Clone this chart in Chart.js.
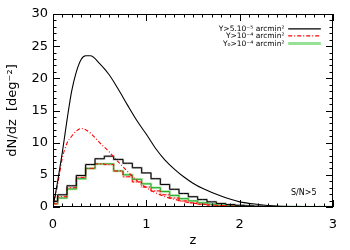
<!DOCTYPE html>
<html>
<head>
<meta charset="utf-8">
<script src="https://cdn.jsdelivr.net/npm/chart.js@4"></script>
<style>html,body{margin:0;padding:0;background:#fff;}canvas{display:block;}</style>
</head>
<body>
<canvas id="c" width="350" height="250"></canvas>
<script>
// ---- data ----
const zCurve = [0,0.05,0.1,0.15,0.2,0.25,0.3,0.35,0.4,0.5,0.6,0.7,0.8,0.9,1.0,1.1,1.2,1.3,1.4,1.5,1.6,1.8,2.0,2.2,2.4,2.6,2.8,3.0];
const blackCurve = [0,4,8.5,13.5,18,21,22.9,23.5,23.5,22.3,20.6,18.3,15.8,13.4,11.3,9.1,7.3,5.9,4.7,3.7,2.9,1.7,0.8,0.4,0.15,0.06,0.02,0.01];
const redCurve   = [0,3.5,7.6,9.9,11.0,11.8,12.2,12.0,11.5,10.0,8.6,7.0,5.5,4.1,3.0,2.2,1.6,1.2,0.85,0.6,0.45,0.22,0.1,0.05,0.03,0.02,0.01,0];

const zHist = [0,0.1,0.2,0.3,0.4,0.5,0.6,0.7,0.8,0.9,1.0,1.1,1.2,1.3,1.4,1.5,1.6,1.7,1.8,1.9,2.0,2.1,2.2,2.3,2.4,2.5,2.6,2.7,2.8,2.9,3.0];
const blackHist = [0.9,1.9,3.3,4.9,6.6,7.5,7.9,7.4,6.8,6.1,5.3,4.4,3.5,2.75,2.1,1.6,1.15,0.8,0.55,0.38,0.26,0.18,0.12,0.08,0.05,0.03,0.02,0.01,0.01,0,0];
const redHist   = [0.5,1.6,3.0,4.6,6.0,6.7,6.6,5.6,4.7,3.9,3.1,2.5,1.9,1.4,0.95,0.65,0.42,0.28,0.18,0.12,0.08,0.05,0.03,0.02,0.01,0.01,0,0,0,0,0];
const greenHist = [0.5,1.4,2.8,4.4,6.0,6.7,6.7,5.6,5.0,4.3,3.6,3.0,2.4,1.8,1.3,0.95,0.65,0.45,0.3,0.2,0.14,0.1,0.07,0.05,0.03,0.02,0.01,0.01,0,0,0];

const xTickLabels = [0,1,2,3];
const yTickLabels = [0,5,10,15,20,25,30];
const legendLabels = ["Y>5.10\u207B\u2075 arcmin\u00B2","Y>10\u207B\u2074 arcmin\u00B2","Y\u2080>10\u207B\u2074 arcmin\u00B2"];
const noteText = "S/N>5";

// ---- build ----
const pts = (xs, ys) => xs.map((x,i)=>({x, y: ys[i]}));
const histDs = (vals, color, width, dash) => ({
  data: pts(zHist, vals), borderColor: color, borderWidth: width, borderDash: dash||[],
  stepped: 'middle', pointRadius: 0, fill: false
});
const curveDs = (vals, color, width, dash) => ({
  data: pts(zCurve, vals), borderColor: color, borderWidth: width, borderDash: dash||[],
  cubicInterpolationMode: 'monotone', pointRadius: 0, fill: false
});

const datasets = [
  curveDs(blackCurve, '#000000', 1.1),
  curveDs(redCurve, '#ff0000', 1.1, [4,2,1,2]),
  histDs(blackHist, '#000000', 1),
  histDs(redHist, '#ff0000', 1, [4,2,1,2]),
  histDs(greenHist, '#22aa22', 1),
  histDs(blackHist, 'rgba(150,150,150,0.7)', 2),
  histDs(redHist, 'rgba(255,170,170,0.6)', 2),
  histDs(greenHist, 'rgba(150,225,150,0.8)', 2.5)
];

const frame = {
  id: 'frame',
  beforeDraw(chart){ const c=chart.ctx; c.save(); c.fillStyle='#fff'; c.fillRect(0,0,chart.width,chart.height); c.restore(); },
  afterDraw(chart){
    const {ctx, chartArea:{left,right,top,bottom}, scales:{x,y}} = chart;
    ctx.save();
    ctx.strokeStyle='#000'; ctx.lineWidth=1;
    ctx.strokeRect(Math.round(left)+0.5, Math.round(top)+0.5, Math.round(right-left)-1, Math.round(bottom-top)-1);
    ctx.beginPath();
    for(let v=0; v<=30; v++){
      const py = Math.round(y.getPixelForValue(v))+0.5; const len = v%5===0?7:3.5;
      ctx.moveTo(left,py); ctx.lineTo(left+len,py);
      ctx.moveTo(right,py); ctx.lineTo(right-len,py);
    }
    for(let k=0; k<=30; k++){
      const px = Math.round(x.getPixelForValue(k/10))+0.5; const len = k%10===0?7:3.5;
      ctx.moveTo(px,bottom); ctx.lineTo(px,bottom-len);
      ctx.moveTo(px,top); ctx.lineTo(px,top+len);
    }
    ctx.stroke();
    // legend
    const lx = x.getPixelForValue(2.48), l1 = x.getPixelForValue(2.52), l2 = x.getPixelForValue(2.87);
    const rows = [y.getPixelForValue(27.7), y.getPixelForValue(26.6), y.getPixelForValue(25.4)];
    const styles = [{c:'#000',w:1.2,d:[]},{c:'#ff0000',w:1.2,d:[4,2,1,2]},{c:'rgba(150,225,150,1)',w:3,d:[]}];
    ctx.font = '7.5px "DejaVu Sans"'; ctx.fillStyle='#000'; ctx.textAlign='right'; ctx.textBaseline='middle';
    legendLabels.forEach((t,i)=>{
      ctx.fillText(t, lx, rows[i]);
      ctx.beginPath(); ctx.strokeStyle=styles[i].c; ctx.lineWidth=styles[i].w; ctx.setLineDash(styles[i].d);
      ctx.moveTo(l1, rows[i]); ctx.lineTo(l2, rows[i]); ctx.stroke();
    });
    ctx.setLineDash([]);
    ctx.font = '8px "DejaVu Sans"'; ctx.textAlign='left'; ctx.fillStyle='#000';
    ctx.fillText(noteText, x.getPixelForValue(2.55), y.getPixelForValue(2.2));
    ctx.restore();
  }
};

new Chart(document.getElementById('c'), {
  type: 'line',
  data: { datasets },
  options: {
    responsive: false, animation: false,
    layout: { padding: { top: 14, right: 17, left: 0, bottom: 0 } },
    plugins: { legend: { display: false }, tooltip: { enabled: false } },
    scales: {
      x: {
        type: 'linear', min: 0, max: 3,
        afterFit: s => { s.height = 43; },
        afterBuildTicks: s => { s.ticks = xTickLabels.map(v=>({value:v})); },
        grid: { display: false, drawTicks: false }, border: { display: false },
        ticks: { padding: 10, color: '#000', font: { family: 'DejaVu Sans', size: 13 }, maxRotation: 0 },
        title: { display: true, text: 'z', color: '#000', font: { family: 'DejaVu Sans', size: 13 }, padding: { top: 0, bottom: 2 } }
      },
      y: {
        type: 'linear', min: 0, max: 30,
        afterFit: s => { s.width = 53; },
        afterBuildTicks: s => { s.ticks = yTickLabels.map(v=>({value:v})); },
        grid: { display: false, drawTicks: false }, border: { display: false },
        ticks: { padding: 5, color: '#000', font: { family: 'DejaVu Sans', size: 13 } },
        title: { display: true, text: 'dN/dz  [deg\u207B\u00B2]', color: '#000', font: { family: 'DejaVu Sans', size: 13 }, padding: { top: 5, bottom: 0 } }
      }
    }
  },
  plugins: [frame]
});
</script>
</body>
</html>
